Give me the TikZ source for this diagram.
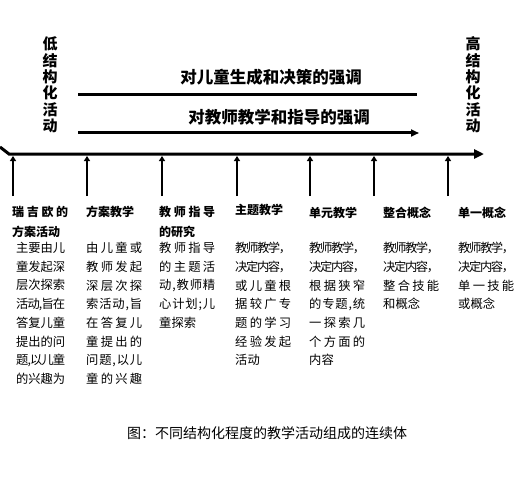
\documentclass[tikz,border=0pt]{standalone}
\usepackage{fontspec}
\setmainfont{Noto Sans CJK SC}
\usetikzlibrary{arrows.meta}
\newcommand\sprA[1]{#1\sprB}
\newcommand\sprB[1]{\ifx\relax#1\else\hskip 0pt plus 1fil minus 2pt#1\expandafter\sprB\fi}
\newcommand\jl[1]{\hbox to 56pt{\sprA#1\relax}}
\newcommand\jn[1]{\hbox to 49pt{\sprA#1\relax}}
\begin{document}
\begin{tikzpicture}[x=1pt,y=-1pt,
  vlab/.style={align=center,inner sep=0pt,font=\fontsize{15}{16.4}\selectfont\bfseries},
  emtxt/.style={inner sep=0pt,font=\fontsize{16.5}{18}\selectfont\bfseries},
  ttl/.style={anchor=north west,align=left,inner sep=0pt,font=\fontsize{12}{20}\selectfont\bfseries},
  bdy/.style={anchor=north west,align=left,inner sep=0pt,font=\fontsize{12.3}{18.7}\selectfont},
  axisline/.style={line width=3pt,-{Triangle[length=10pt,width=9pt]}},
  emline/.style={line width=3pt},
  emarrow/.style={line width=3pt,-{Triangle[length=8pt,width=7pt]}},
  tickarrow/.style={line width=2.5pt,-{Triangle[length=5pt,width=6pt]}},
  captxt/.style={inner sep=0pt,font=\fontsize{14}{16}\selectfont}]
\useasboundingbox (0,0) rectangle (519,492);

% vertical labels
\node[vlab] (low) at (50,85) {低\\结\\构\\化\\活\\动};
\node[vlab] (high) at (473,85) {高\\结\\构\\化\\活\\动};

% emphasis texts and lines
\node[emtxt] (e1) at (271,77) {对儿童生成和决策的强调};
\coordinate (l1a) at (78,95);
\coordinate (l1b) at (417,95);
\draw[emline] (l1a) -- (l1b);
\node[emtxt] (e2) at (279,117) {对教师教学和指导的强调};
\coordinate (l2a) at (78,133);
\coordinate (l2b) at (419,133);
\draw[emarrow] (l2a) -- (l2b);

% main axis
\coordinate (ax0) at (0,147);
\coordinate (ax1) at (9,154);
\coordinate (axE) at (484,154);
\draw[axisline] (ax0) -- (ax1) -- (axE);

% ticks
\foreach \i/\x in {1/13,2/87,3/162,4/237,5/310,6/374,7/448}{
  \coordinate (a\i) at (\x,156);
  \coordinate (k\i) at (\x,196);
  \draw[tickarrow] (k\i) -- (a\i);
}

% column 1
\node[ttl] (t1) at (12,206) {\jl{瑞吉欧的}\\方案活动};
\node[bdy] (b1) at (16,242) {\jn{主要由儿}\\\jn{童发起深}\\\jn{层次探索}\\\jn{活动,旨在}\\\jn{答复儿童}\\\jn{提出的问}\\\jn{题,以儿童}\\\jn{的兴趣为}};
% column 2
\node[ttl] (t2) at (86,206) {方案教学};
\node[bdy] (b2) at (86,242) {\jl{由儿童或}\\\jl{教师发起}\\\jl{深层次探}\\\jl{索活动,旨}\\\jl{在答复儿}\\\jl{童提出的}\\\jl{问题,以儿}\\\jl{童的兴趣}};
% column 3
\node[ttl] (t3) at (159,206) {\jl{教师指导}\\的研究};
\node[bdy] (b3) at (159,242) {\jl{教师指导}\\\jl{的主题活}\\\jl{动,教师精}\\\jl{心计划;儿}\\童探索};
% column 4
\node[ttl] (t4) at (235,204) {主题教学};
\node[bdy] (b4) at (235,242) {\jl{教师教学，}\\\jl{决定内容，}\\\jl{或儿童根}\\\jl{据较广专}\\\jl{题的学习}\\\jl{经验发起}\\活动};
% column 5
\node[ttl] (t5) at (309,207) {单元教学};
\node[bdy] (b5) at (309,242) {\jl{教师教学，}\\\jl{决定内容，}\\\jl{根据狭窄}\\\jl{的专题,统}\\\jl{一探索几}\\\jl{个方面的}\\内容};
% column 6
\node[ttl] (t6) at (383,207) {整合概念};
\node[bdy] (b6) at (383,242) {\jl{教师教学，}\\\jl{决定内容，}\\\jl{整合技能}\\和概念};
% column 7
\node[ttl] (t7) at (458,207) {单一概念};
\node[bdy] (b7) at (458,242) {\jl{教师教学，}\\\jl{决定内容，}\\\jl{单一技能}\\或概念};

% caption
\node[captxt] (cap) at (267,433) {图：不同结构化程度的教学活动组成的连续体};
\end{tikzpicture}
\end{document}
